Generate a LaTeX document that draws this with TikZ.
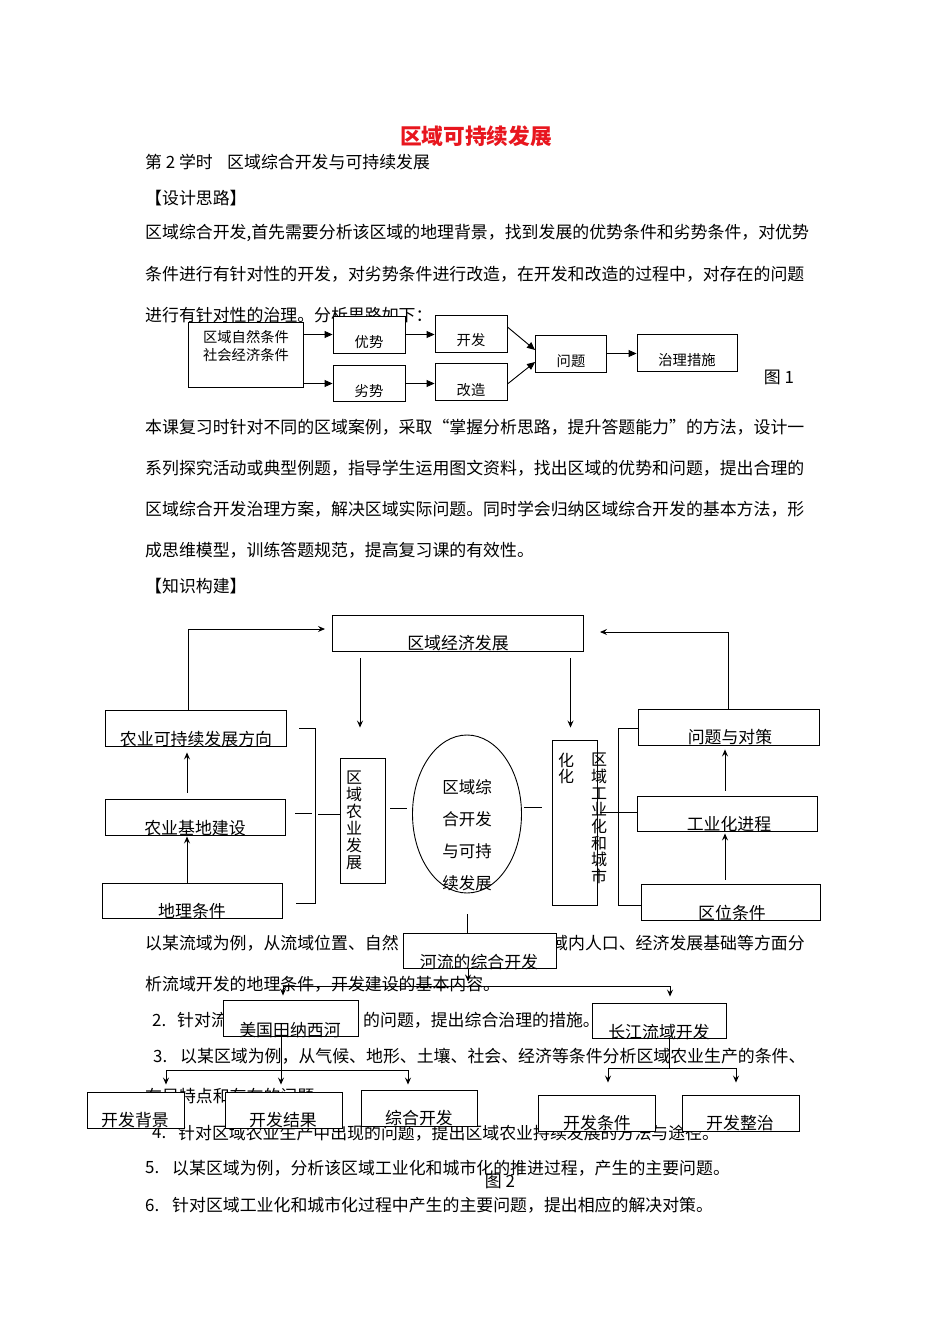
\documentclass[tikz,border=0pt]{standalone}
\usepackage{fontspec}
\setmainfont{Noto Sans CJK SC}
\usetikzlibrary{arrows.meta,shapes.geometric,calc}
\definecolor{titlered}{RGB}{232,22,30}
\newcommand\bodyfs{\fontsize{16.9}{20}\selectfont}
\newcommand\smallfs{\fontsize{14.3}{18}\selectfont}
\newcommand\mkbox[5]{\node[bx, minimum width=#4pt, minimum height=#5pt] (#1) at (#2,#3) {};}
\tikzset{
 bt/.style={anchor=west, inner sep=0pt, font=\bodyfs},
 lb/.style={inner sep=0pt, font=\bodyfs},
 sl/.style={inner sep=0pt, font=\smallfs},
 bx/.style={draw, fill=white, line width=0.9pt, inner sep=0pt},
 ln/.style={line width=0.9pt},
 arr/.style={line width=0.9pt, -{Stealth[length=7pt,width=6pt,inset=2.5pt]}},
 tarr/.style={line width=0.9pt, -{Triangle[length=8pt,width=7pt]}},
}
\begin{document}
\begin{tikzpicture}[x=1pt,y=-1pt]
\useasboundingbox (0,0) rectangle (950,1344);
\fill[white] (0,0) rectangle (950,1344);

% ---------- body text ----------
\node[inner sep=0pt, font=\fontsize{21.7}{24}\selectfont\bfseries, text=titlered] (title) at (476,136) {区域可持续发展};
\node[bt] (t1a) at (145,162) {第 2 学时};
\node[bt] (t1b) at (227,162) {区域综合开发与可持续发展};
\node[bt] (t2) at (145,198) {【设计思路】};
\node[bt] (p1) at (145,233) {区域综合开发,首先需要分析该区域的地理背景，找到发展的优势条件和劣势条件，对优势};
\node[bt] (p2) at (145,274) {条件进行有针对性的开发，对劣势条件进行改造，在开发和改造的过程中，对存在的问题};
\node[bt] (p3) at (145,315) {进行有针对性的治理。分析思路如下：};
\node[bt] (q1) at (145,427) {本课复习时针对不同的区域案例，采取“掌握分析思路，提升答题能力”的方法，设计一};
\node[bt] (q2) at (145,468) {系列探究活动或典型例题，指导学生运用图文资料，找出区域的优势和问题，提出合理的};
\node[bt] (q3) at (145,509) {区域综合开发治理方案，解决区域实际问题。同时学会归纳区域综合开发的基本方法，形};
\node[bt] (q4) at (145,550) {成思维模型，训练答题规范，提高复习课的有效性。};
\node[bt] (t3) at (145,586) {【知识构建】};
\node[bt] (r1a) at (145,943) {以某流域为例，从流域位置、自然};
\node[bt] (r1b) at (551,943) {域内人口、经济发展基础等方面分};
\node[bt] (r2) at (145,984) {析流域开发的地理条件，开发建设的基本内容。};
\node[bt] (n2) at (152,1020) {2.};
\node[bt] (r3a) at (177,1020) {针对流};
\node[bt] (r3b) at (363,1020) {的问题，提出综合治理的措施。};
\node[bt] (n3) at (153,1056) {3.};
\node[bt] (r4) at (180,1056) {以某区域为例，从气候、地形、土壤、社会、经济等条件分析区域农业生产的条件、};
\node[bt] (r5) at (145,1096) {布局特点和存在的问题。};
\node[bt] (n4) at (152,1133) {4.};
\node[bt] (r6) at (178,1133) {针对区域农业生产中出现的问题，提出区域农业持续发展的方法与途径。};
\node[bt] (n5) at (145,1168) {5.};
\node[bt] (r7) at (172,1168) {以某区域为例，分析该区域工业化和城市化的推进过程，产生的主要问题。};
\node[lb] (fig2) at (500,1181) {图 2};
\node[bt] (n6) at (145,1205) {6.};
\node[bt] (r8) at (172,1205) {针对区域工业化和城市化过程中产生的主要问题，提出相应的解决对策。};

% ---------- figure 1 ----------
\mkbox{A}{245.5}{354.5}{115}{65}
\mkbox{you}{369}{334.5}{72}{37}
\mkbox{kf}{471}{333.5}{72}{37}
\mkbox{lie}{369}{383.5}{72}{36}
\mkbox{gz}{471}{382}{72}{37}
\mkbox{wt}{571}{353.5}{71}{37}
\mkbox{zl}{687}{352.5}{100}{37}
\node[sl, align=center] (Atx) at (246,346) {区域自然条件\\社会经济条件};
\node[sl] (youtx) at (369,342) {优势};
\node[sl] (kftx) at (471,340) {开发};
\node[sl] (lietx) at (369,391) {劣势};
\node[sl] (gztx) at (471,390) {改造};
\node[sl] (wttx) at (571,361) {问题};
\node[sl] (zltx) at (687,360) {治理措施};
\node[lb] (fig1) at (779,377) {图 1};
\draw[tarr] (A.east |- you.west) -- (you.west);
\draw[tarr] (A.east |- lie.west) -- (lie.west);
\draw[tarr] (you.east) -- (kf.west |- you.east);
\draw[tarr] (lie.east) -- (gz.west |- lie.east);
\draw[tarr] ($(kf.east)+(0,-6.5)$) -- ($(wt.west)+(0,-3.5)$);
\draw[tarr] ($(gz.east)+(0,2)$) -- ($(wt.west)+(0,8.5)$);
\draw[tarr] (wt.east) -- (zl.west |- wt.east);

% ---------- figure 2 ----------
\mkbox{econ}{457.5}{633}{251}{36}
\mkbox{agdir}{195.5}{728}{181}{36}
\mkbox{agbase}{195}{817}{180}{36}
\mkbox{geo}{192}{900.5}{180}{35}
\mkbox{agdev}{362.5}{820.5}{45}{125}
\node[draw, ellipse, fill=white, line width=0.9pt, inner sep=0pt, minimum width=109pt, minimum height=158pt] (ell) at (467,814) {};
\mkbox{indev}{574.5}{822.5}{45}{165}
\mkbox{probs}{728.5}{727}{181}{36}
\mkbox{indproc}{727}{813.5}{180}{35}
\mkbox{loc}{730.5}{902}{179}{36}
\mkbox{river}{479.5}{950.5}{153}{35}
\mkbox{tva}{290.5}{1018}{135}{36}
\mkbox{yz}{659}{1020.5}{134}{35}
\mkbox{bg}{135.5}{1110}{97}{36}
\mkbox{res}{283.5}{1110}{117}{36}
\mkbox{comp}{419}{1108}{116}{36}
\mkbox{cond}{596.5}{1113}{117}{36}
\mkbox{zz}{740.5}{1113}{117}{36}

\node[lb] (econtx) at (458,643) {区域经济发展};
\node[lb] (agdirtx) at (196,739) {农业可持续发展方向};
\node[lb] (agbasetx) at (195,828) {农业基地建设};
\node[lb] (geotx) at (192,911) {地理条件};
\node[inner sep=0pt, align=center, font=\fontsize{16}{17}\selectfont] (agdevtx) at (354,820.5) {区\\域\\农\\业\\发\\展};
\node[inner sep=0pt, align=center, font=\fontsize{16.5}{32}\selectfont] (elltx) at (467,835.5) {区域综\\合开发\\与可持\\续发展};
\node[inner sep=0pt, align=center, font=\fontsize{16}{16.7}\selectfont] (indevtxa) at (566,768.5) {化\\化};
\node[inner sep=0pt, align=center, font=\fontsize{16}{16.7}\selectfont] (indevtxb) at (599,818.5) {区\\域\\工\\业\\化\\和\\城\\市};
\node[lb] (probstx) at (730,737) {问题与对策};
\node[lb] (indproctx) at (729,824) {工业化进程};
\node[lb] (loctx) at (732,913) {区位条件};
\node[lb] (rivertx) at (479,962) {河流的综合开发};
\node[lb] (tvatx) at (290,1030) {美国田纳西河};
\node[lb] (yztx) at (659,1032) {长江流域开发};
\node[lb] (bgtx) at (135,1120) {开发背景};
\node[lb] (restx) at (283,1120) {开发结果};
\node[lb] (comptx) at (419,1118) {综合开发};
\node[lb] (condtx) at (597,1123) {开发条件};
\node[lb] (zztx) at (740,1123) {开发整治};

% connectors
\coordinate (econL) at (325,629);
\coordinate (econR) at (600,632);
\draw[arr] ($(agdir.north)+(-7.5,0)$) |- (econL);
\draw[arr] (probs.north) |- (econR);
\draw[arr] ($(econ.south)+(-97.5,7)$) -- ($(agdev.north)+(-2.5,-30)$);
\draw[arr] ($(econ.south)+(113,7)$) -- ($(indev.north)+(-4,-12)$);
\draw[arr] ($(geo.north)+(-5,0)$) -- ($(agbase.south)+(-8,1)$);
\draw[arr] ($(agbase.north)+(-8,-6)$) -- ($(agdir.south)+(-8.5,6)$);
\draw[arr] ($(loc.north)+(-5.5,-4)$) -- ($(indproc.south)+(-2,2)$);
\draw[arr] ($(indproc.north)+(-2,-5)$) -- ($(probs.south)+(-3.5,4)$);
% brackets
\draw[ln] (299,728) -- (315,728) -- (315,903) -- (296,903);
\draw[ln] (295,813) -- (312,813);
\draw[ln] (318,814) -- (agdev.west |- 0,814);
\draw[ln] (390,808) -- (407,808);
\draw[ln] (524,807) -- (542,807);
\draw[ln] (probs.west |- 0,728) -- (618,728) -- (618,905) -- (loc.west |- 0,905);
\draw[ln] (600,812) -- (indproc.west |- 0,812);
% river tree
\draw[ln] ($(ell.south)+(0,21)$) -- (river.north -| ell.south);
\draw[arr] ($(river.south)+(-11.5,0)$) -- ++(0,13);
\draw[ln] (283,986) -- (670,986);
\draw[arr] (283,986) -- ($(tva.north)+(-7.5,-4)$);
\draw[arr] (670,986) -- ($(yz.north)+(11,-6)$);
\draw[arr] ($(tva.south)+(-9.5,0)$) -- ($(res.north)+(-2.5,-7)$);
\draw[ln] (166,1070) -- (408,1070);
\draw[arr] (166,1070) -- ($(bg.north)+(30.5,-7)$);
\draw[arr] (408,1070) -- ($(comp.north)+(-11,-5)$);
\draw[ln] ($(yz.south)+(10,0)$) -- (669,1068);
\draw[ln] (608,1068) -- (736,1068);
\draw[arr] (608,1068) -- ($(cond.north)+(11.5,-12)$);
\draw[arr] (736,1068) -- ($(zz.north)+(-4.5,-12)$);
\end{tikzpicture}
\end{document}
